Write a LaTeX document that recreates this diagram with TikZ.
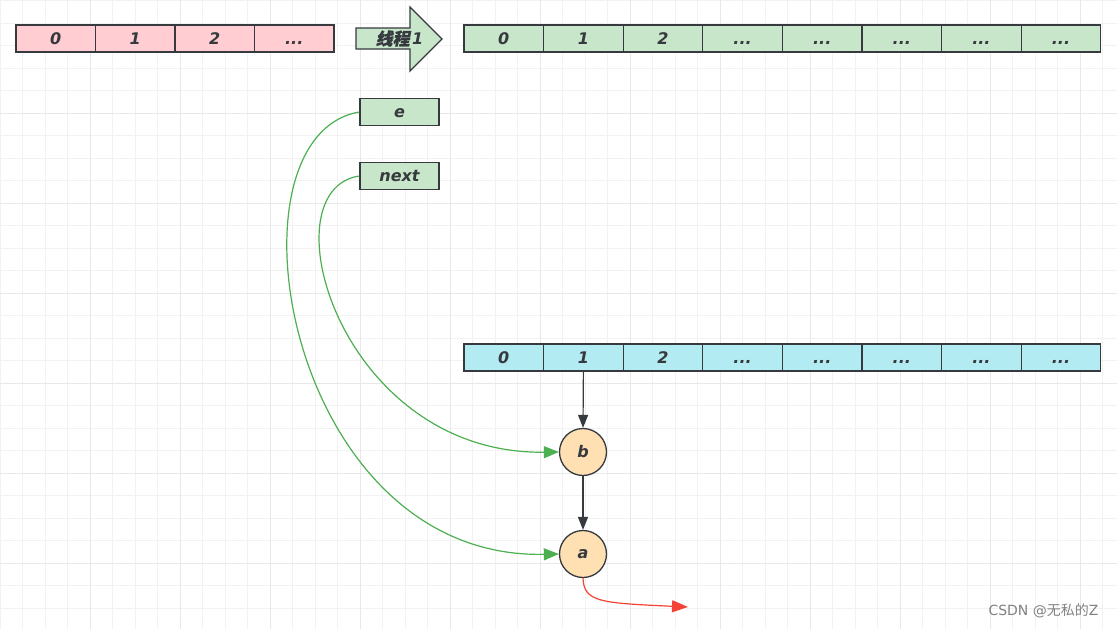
\documentclass[tikz,border=0pt]{standalone}
\usepackage{fontspec}
\setmainfont{DejaVu Sans}
\newfontfamily\cjk[FakeSlant=0.2,FakeBold=1]{Noto Sans CJK SC}
\newfontfamily\cjkmark{Noto Sans CJK SC}
\usepackage{xcolor}
\usetikzlibrary{arrows.meta}

\definecolor{pinkfill}{HTML}{FFCDD2}
\definecolor{greenfill}{HTML}{C8E6C9}
\definecolor{cyanfill}{HTML}{B2EBF2}
\definecolor{orangefill}{HTML}{FFE0B2}
\definecolor{edge}{HTML}{36393D}
\definecolor{linkgreen}{HTML}{4CAF50}
\definecolor{linkred}{HTML}{F44336}
\def\dd{...}

\begin{document}
\begin{tikzpicture}[
  x=1pt, y=-1pt,
  cell/.style={draw=edge, line width=1.3pt, minimum width=79.6pt, minimum height=27pt,
    inner sep=0pt, text height=11.7pt, text depth=0pt,
    font=\fontsize{16}{19}\selectfont\bfseries\itshape, text=edge},
  var/.style={cell, fill=greenfill, minimum width=79pt, minimum height=27.5pt},
  obj/.style={draw=edge, line width=1.3pt, circle, fill=orangefill, minimum size=47pt,
    inner sep=0pt, font=\fontsize{16}{19}\selectfont\bfseries\itshape, text=edge},
  arr/.style={-{Triangle[length=13pt,width=10pt]}, draw=edge, line width=1.2pt},
  link/.style={-{Triangle[length=15pt,width=12pt]}, draw=linkgreen, line width=1.2pt},
  gridminor/.style={draw=black!5, line width=1pt},
  gridmajor/.style={draw=black!9, line width=1pt}
]
\useasboundingbox (0,0) rectangle (1117,629);

% background grid
\foreach \k in {0,...,49} \draw[gridminor] ({22.5*\k},0) -- ({22.5*\k},629);
\foreach \k in {0,...,27} \draw[gridminor] (0,{0.5+22.5*\k}) -- (1117,{0.5+22.5*\k});
\foreach \k in {1,...,12} \draw[gridmajor] ({90*\k},0) -- ({90*\k},629);
\foreach \k in {0,...,5} \draw[gridmajor] (0,{113+90*\k}) -- (1117,{113+90*\k});

% old table
\foreach \i/\t in {0/0,1/1,2/2,3/\dd}
  \node[cell, fill=pinkfill, minimum width=79.5pt] (p\i) at ({55.75+79.5*\i},38.5) {\t};

% thread arrow
\draw[draw=edge, line width=1.3pt, fill=greenfill]
  (356,28) -- (410,28) -- (410,7) -- (442,39) -- (410,71) -- (410,49) -- (356,49) -- cycle;
\node[font=\fontsize{16}{19}\selectfont\bfseries\itshape, text=edge, inner sep=0pt] (thread) at (399.5,38.5)
  {{\cjk\fontsize{17}{19}\selectfont 线程}\kern2.5pt 1};

% new table of thread 1
\foreach \i/\t in {0/0,1/1,2/2,3/\dd,4/\dd,5/\dd,6/\dd,7/\dd}
  \node[cell, fill=greenfill] (t\i) at ({503.8+79.6*\i},38.5) {\t};

% variables
\node[var] (e) at (399.5,112) {e};
\node[var] (next) at (399.5,176) {next};

% new table seen by the other thread
\foreach \i/\t in {0/0,1/1,2/2,3/\dd,4/\dd,5/\dd,6/\dd,7/\dd}
  \node[cell, fill=cyanfill] (c\i) at ({503.8+79.6*\i},357.5) {\t};

% entries
\node[obj] (b) at (583,452) {b};
\node[obj] (a) at (583,554) {a};
\coordinate (tail) at (688,607);

\draw[arr] (c1.south) -- (b.north);
\draw[arr] (b.south) -- (a.north);
\draw[link] (e.west) .. controls (218,136) and (285,560) .. (a.west);
\draw[link] (next.west) .. controls (265,190) and (340,455) .. (b.west);
\draw[-{Triangle[length=16pt,width=12pt]}, draw=linkred, line width=1.2pt]
  (a.south) .. controls (584,602) and (600,603) .. (tail);

\node[anchor=east, text=black!50, font=\fontsize{14}{16}\selectfont] (mark) at (1102,611)
  {CSDN @{\cjkmark 无私的}Z};
\end{tikzpicture}
\end{document}
